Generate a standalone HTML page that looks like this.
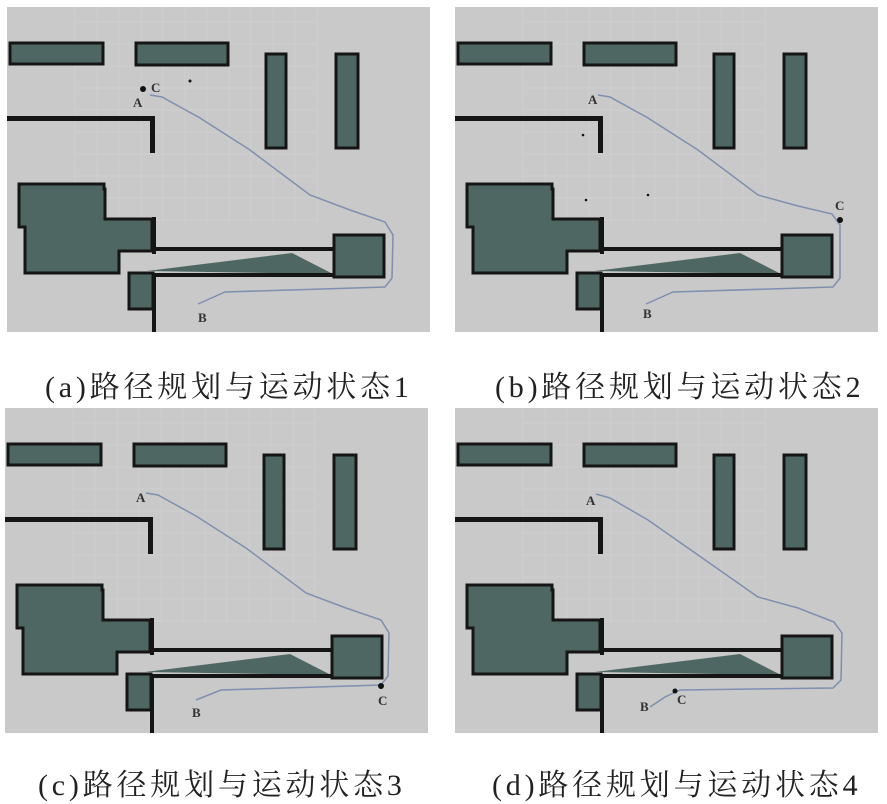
<!DOCTYPE html>
<html><head><meta charset="utf-8"><style>
html,body{margin:0;padding:0;background:#fff;width:887px;height:802px;overflow:hidden}
.cap{position:absolute;font-family:"Liberation Serif","Noto Serif CJK SC",serif;font-size:30px;color:#222;white-space:nowrap;letter-spacing:3.8px}
</style></head><body>
<svg width="887" height="802" style="position:absolute;left:0;top:0">
<defs>
<g id="map">
<rect x="0" y="0" width="423" height="325" fill="#c9c9c9"/>
<g stroke="#d0d0d0" stroke-width="1">
<path d="M68 0V215M90 0V215M112 0V215M134 0V215M156 0V215M178 0V215M200 0V215M222 0V215M244 0V215M266 0V215M288 0V215M310 0V215"/>
<path d="M68 15H310M68 37H310M68 59H310M68 81H310M68 103H310M68 125H310M68 147H310M68 169H310M68 191H310M68 213H310"/>
</g>
<g fill="#4f6762" stroke="#151515" stroke-width="3">
<rect x="3" y="36" width="93" height="21"/>
<rect x="129" y="36" width="92" height="22"/>
<rect x="259" y="47" width="20" height="94"/>
<rect x="329" y="47" width="22" height="94"/>
<path d="M12 177H97V182H98V212H108V212H145V244H112V266H18V220H12Z"/>
<rect x="327" y="228" width="50" height="42"/>
<rect x="122" y="266" width="24" height="36"/>
<path d="M140 264L285 246L326 267Z" stroke="none"/>
</g>
<g fill="#151515">
<rect x="0" y="109" width="148" height="5"/>
<rect x="143" y="109" width="5" height="37"/>
<rect x="145" y="210" width="4" height="37"/>
<rect x="145" y="240" width="183" height="4"/>
<rect x="145" y="266" width="183" height="4"/>
<rect x="145" y="266" width="4" height="59"/>
</g>
</g>
</defs>
<g transform="translate(7,7)"><use href="#map"/></g>
<path d="M150 95L162 97L200 118L250 150L310 195L350 210L385 222L393 235L392 278L385 287L225 292L198 304" fill="none" stroke="#7f8fb0" stroke-width="1.5"/>
<circle cx="143" cy="89" r="3" fill="#111"/><circle cx="190" cy="81" r="1.5" fill="#111"/>
<g font-family="Liberation Serif,serif" font-size="13" font-weight="bold" fill="#333"><text x="133" y="107">A</text><text x="151" y="92">C</text><text x="198" y="322">B</text></g>
<g transform="translate(455,7)"><use href="#map"/></g>
<path d="M598 95L610 97L648 118L698 150L758 195L798 206L832 214L840 225L840 278L833 287L673 292L646 304" fill="none" stroke="#7f8fb0" stroke-width="1.5"/>
<circle cx="840" cy="220" r="3" fill="#111"/><circle cx="583" cy="135" r="1.3" fill="#111"/><circle cx="586" cy="200" r="1.3" fill="#111"/><circle cx="648" cy="195" r="1.3" fill="#111"/>
<g font-family="Liberation Serif,serif" font-size="13" font-weight="bold" fill="#333"><text x="588" y="104">A</text><text x="835" y="210">C</text><text x="643" y="318">B</text></g>
<g transform="translate(5,408)"><use href="#map"/></g>
<path d="M146 493L158 495L196 516L246 548L306 593L346 608L381 620L389 633L388 676L381 685L221 690L196 700" fill="none" stroke="#7f8fb0" stroke-width="1.5"/>
<circle cx="381" cy="686" r="3" fill="#111"/>
<g font-family="Liberation Serif,serif" font-size="13" font-weight="bold" fill="#333"><text x="136" y="502">A</text><text x="378" y="705">C</text><text x="192" y="717">B</text></g>
<g transform="translate(455,408)"><use href="#map"/></g>
<path d="M596 494L610 498L648 520L698 555L758 597L798 608L834 622L842 633L841 680L833 688L680 690L665 697L650 707" fill="none" stroke="#7f8fb0" stroke-width="1.5"/>
<circle cx="675" cy="691" r="2.5" fill="#111"/>
<g font-family="Liberation Serif,serif" font-size="13" font-weight="bold" fill="#333"><text x="586" y="505">A</text><text x="677" y="704">C</text><text x="640" y="711">B</text></g>
</svg>
<div class="cap" style="left:45px;top:362px">(a)路径规划与运动状态1</div>
<div class="cap" style="left:495px;top:362px">(b)路径规划与运动状态2</div>
<div class="cap" style="left:38px;top:760px">(c)路径规划与运动状态3</div>
<div class="cap" style="left:492px;top:760px">(d)路径规划与运动状态4</div>
</body></html>
